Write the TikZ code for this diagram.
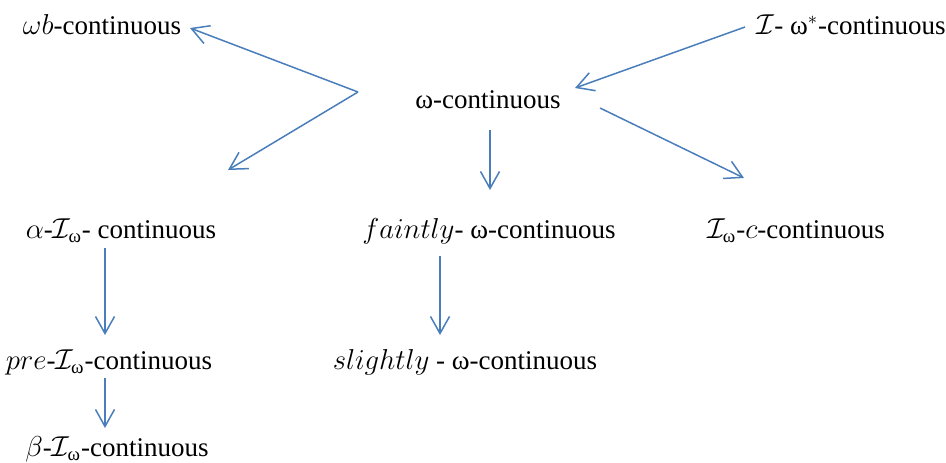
\documentclass[tikz,border=0pt]{standalone}
\usepackage{amsmath}
\usepackage{fontspec}
\setmainfont{Liberation Serif}
\usepackage{tikz}
\usetikzlibrary{arrows.meta}

\definecolor{arrblue}{RGB}{74,126,187}

\begin{document}
\begin{tikzpicture}[x=0.5pt,y=-0.5pt,
    arr/.style={-{Straight Barb[length=8.5pt,width=9.5pt]},arrblue,line width=0.75pt},
    lbl/.style={inner sep=0pt,font=\rmfamily\fontsize{13.5}{16}\selectfont}]
    \useasboundingbox (0,0) rectangle (946,462);

    % labels
    \node[lbl] (wb)     at (102,25)  {$\omega b$-continuous};
    \node[lbl] (Istar)  at (851,25)  {$\mathcal{I}$- ω$^{*}$-continuous};
    \node[lbl] (wcont)  at (488,100) {ω-continuous};
    \node[lbl] (alphaI) at (121,231) {$\alpha$-$\mathcal{I}_{\text{ω}}$- continuous};
    \node[lbl] (faint)  at (489,231) {$faintly$- ω-continuous};
    \node[lbl] (Ic)     at (796,231) {$\mathcal{I}_{\text{ω}}$-$c$-continuous};
    \node[lbl] (pre)    at (109,362) {$pre$-$\mathcal{I}_{\text{ω}}$-continuous};
    \node[lbl] (slight) at (465,362) {$slightly$ - ω-continuous};
    \node[lbl] (beta)   at (117,449) {$\beta$-$\mathcal{I}_{\text{ω}}$-continuous};

    % free ends of the arrows
    \coordinate (fork) at (358,92);
    \coordinate (wbtip) at (190,28);
    \coordinate (alphatip) at (228,170);
    \coordinate (Istart) at (745,27);
    \coordinate (Itip) at (575,88);
    \coordinate (Icstart) at (600,108);
    \coordinate (Ictip) at (744,178);
    \coordinate (wstart) at (490,130);
    \coordinate (wtip) at (490,190);
    \coordinate (astart) at (105,248);
    \coordinate (atip) at (105,335);
    \coordinate (fstart) at (440,256);
    \coordinate (ftip) at (440,335);
    \coordinate (pstart) at (105,378);
    \coordinate (ptip) at (105,428);

    \draw[arr] (fork) -- (wbtip);
    \draw[arr] (fork) -- (alphatip);
    \draw[arr] (Istart) -- (Itip);
    \draw[arr] (Icstart) -- (Ictip);
    \draw[arr] (wstart) -- (wtip);
    \draw[arr] (astart) -- (atip);
    \draw[arr] (fstart) -- (ftip);
    \draw[arr] (pstart) -- (ptip);
\end{tikzpicture}
\end{document}
